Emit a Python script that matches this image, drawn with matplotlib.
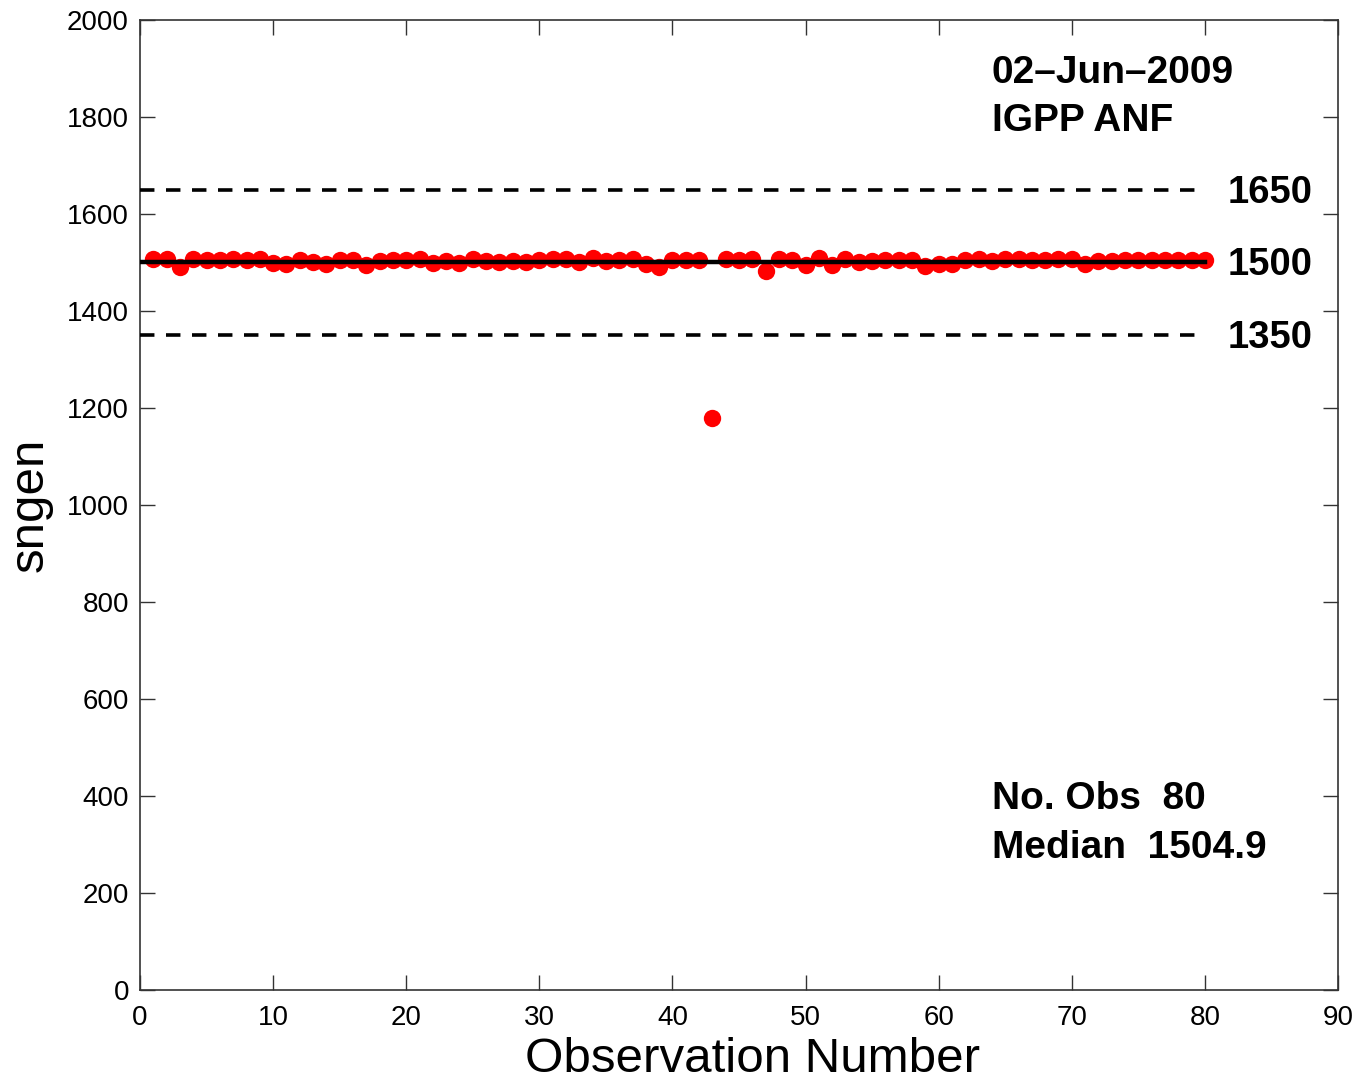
import numpy as np
import matplotlib
matplotlib.use("Agg")
import matplotlib.pyplot as plt

plt.rcParams['font.family'] = ['Liberation Sans', 'DejaVu Sans']

obs = list(range(1, 81))
sngen = [1507, 1507, 1490, 1507, 1505, 1506, 1508, 1505, 1508, 1498,
         1497, 1506, 1500, 1497, 1505, 1505, 1495, 1503, 1506, 1505,
         1507, 1498, 1503, 1498, 1507, 1503, 1500, 1503, 1502, 1505,
         1507, 1507, 1502, 1510, 1503, 1505, 1508, 1497, 1490, 1505,
         1505, 1505, 1180, 1507, 1506, 1507, 1483, 1508, 1505, 1495,
         1510, 1495, 1508, 1500, 1503, 1505, 1505, 1505, 1493, 1497,
         1497, 1505, 1508, 1503, 1508, 1507, 1505, 1505, 1507, 1508,
         1497, 1503, 1503, 1505, 1505, 1505, 1505, 1505, 1505, 1505]
nominal = 1500
limits = [1650, 1350]
date_label = "02\u2013Jun\u20132009"
station = "IGPP ANF"
median_val = 1504.9

fig = plt.figure(figsize=(13.66, 10.8), dpi=100)
ax = fig.add_axes([0.1025, 0.0833, 0.8770, 0.8982])

ax.plot(obs, sngen, 'o', color='#ff0000', markersize=12.5, markeredgewidth=0, zorder=2)
ax.plot([0, obs[-1]], [nominal, nominal], '-', color='black', linewidth=3.2, zorder=3)
for lim in limits:
    ax.plot([0, obs[-1]], [lim, lim], '--', color='black', linewidth=2.6,
            dashes=(4, 3.2), zorder=3)

for val in limits + [nominal]:
    ax.text(81.7, val - 6, str(val), fontsize=27.5, fontweight='bold', va='center', ha='left')

ax.text(64.0, 1890, date_label, fontsize=28, fontweight='bold', va='center', ha='left')
ax.text(64.0, 1792, station, fontsize=28, fontweight='bold', va='center', ha='left')
ax.text(64.0, 394, f"No. Obs  {len(obs)}", fontsize=28, fontweight='bold', va='center', ha='left')
ax.text(64.0, 293, f"Median  {median_val}", fontsize=28, fontweight='bold', va='center', ha='left')

ax.set_xlim(0, 90)
ax.set_ylim(0, 2000)
ax.set_xticks(np.arange(0, 91, 10))
ax.set_yticks(np.arange(0, 2001, 200))
ax.tick_params(direction='in', length=11, width=1, top=True, right=True,
               labelsize=20, color='#333333', pad=8)
ax.tick_params(axis='x', pad=11)
for sp in ax.spines.values():
    sp.set_color('#333333')
    sp.set_linewidth(1.2)

ax.set_xlabel("Observation Number", fontsize=35.5)
ax.xaxis.set_label_coords(0.511, -0.048, transform=ax.transAxes)
ax.xaxis.label.set_va('top')
ax.set_ylabel("sngen", fontsize=35.5, labelpad=10)

fig.savefig("out.png", dpi=100)
